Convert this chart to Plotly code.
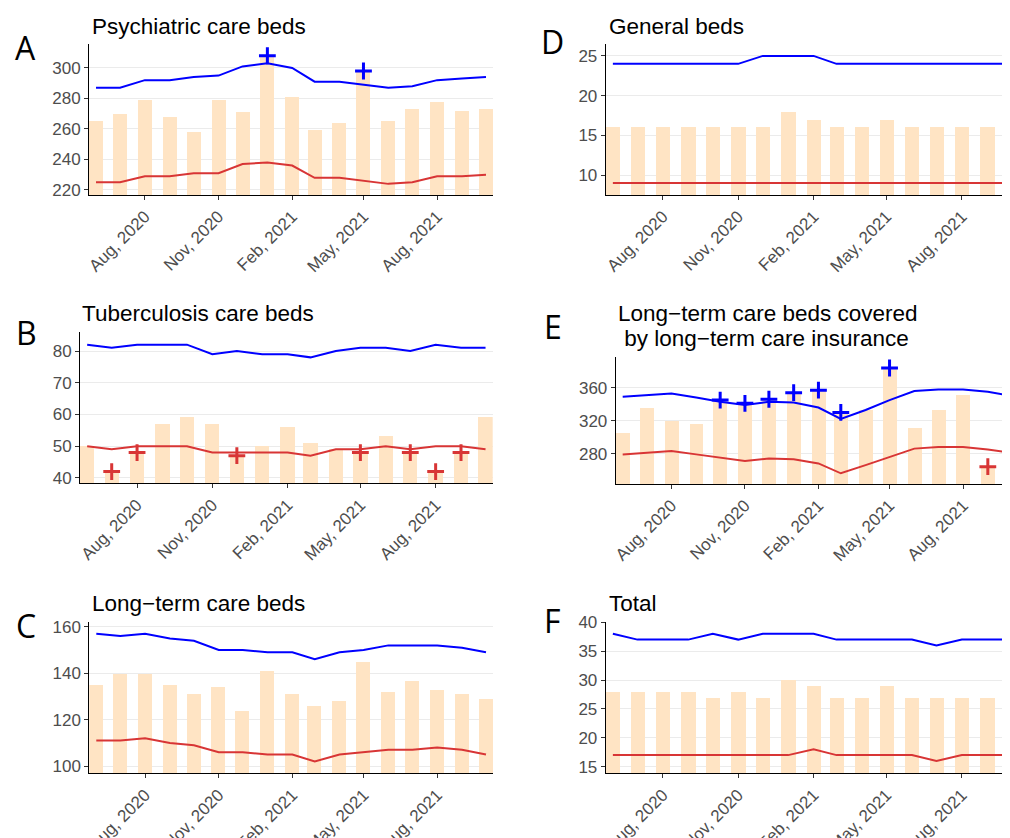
import plotly.graph_objects as go
import pandas as pd

# ---------------- data ----------------
months = pd.date_range("2020-06-01", "2021-10-01", freq="MS")
tick_dates = ["2020-08-01", "2020-11-01", "2021-02-01", "2021-05-01", "2021-08-01"]
tick_labels = ["Aug, 2020", "Nov, 2020", "Feb, 2021", "May, 2021", "Aug, 2021"]

panel_letters = ["A", "B", "C", "D", "E", "F"]
panel_titles = ["Psychiatric care beds", "Tuberculosis care beds", "Long\u2212term care beds",
                "General beds", "Long\u2212term care beds covered\n\u00a0by long\u2212term care insurance", "Total"]

A_bars = [265, 270, 279, 268, 258, 279, 271, 308, 281, 259, 264, 298, 265, 273, 278, 272, 273]
A_upper = [287, 287, 292, 292, 294, 295, 301, 303, 300, 291, 291, 289, 287, 288, 292, 293, 294]
A_lower = [225, 225, 229, 229, 231, 231, 237, 238, 236, 228, 228, 226, 224, 225, 229, 229, 230]
A_above = [0, 0, 0, 0, 0, 0, 0, 1, 0, 0, 0, 1, 0, 0, 0, 0, 0]
A_below = [0, 0, 0, 0, 0, 0, 0, 0, 0, 0, 0, 0, 0, 0, 0, 0, 0]

B_bars = [50, 42, 48, 57, 59, 57, 47, 50, 56, 51, 49, 48, 53, 48, 42, 48, 59]
B_upper = [82, 81, 82, 82, 82, 79, 80, 79, 79, 78, 80, 81, 81, 80, 82, 81, 81]
B_lower = [50, 49, 50, 50, 50, 48, 48, 48, 48, 47, 49, 49, 50, 49, 50, 50, 49]
B_above = [0, 0, 0, 0, 0, 0, 0, 0, 0, 0, 0, 0, 0, 0, 0, 0, 0]
B_below = [0, 1, 1, 0, 0, 0, 1, 0, 0, 0, 0, 1, 0, 1, 1, 1, 0]

C_bars = [135, 140, 140, 135, 131, 134, 124, 141, 131, 126, 128, 145, 132, 137, 133, 131, 129]
C_upper = [157, 156, 157, 155, 154, 150, 150, 149, 149, 146, 149, 150, 152, 152, 152, 151, 149]
C_lower = [111, 111, 112, 110, 109, 106, 106, 105, 105, 102, 105, 106, 107, 107, 108, 107, 105]
C_above = [0, 0, 0, 0, 0, 0, 0, 0, 0, 0, 0, 0, 0, 0, 0, 0, 0]
C_below = [0, 0, 0, 0, 0, 0, 0, 0, 0, 0, 0, 0, 0, 0, 0, 0, 0]

D_bars = [16, 16, 16, 16, 16, 16, 16, 18, 17, 16, 16, 17, 16, 16, 16, 16, 16]
D_upper = [24, 24, 24, 24, 24, 24, 25, 25, 25, 24, 24, 24, 24, 24, 24, 24, 24]
D_lower = [9, 9, 9, 9, 9, 9, 9, 9, 9, 9, 9, 9, 9, 9, 9, 9, 9]
D_above = [0, 0, 0, 0, 0, 0, 0, 0, 0, 0, 0, 0, 0, 0, 0, 0, 0]
D_below = [0, 0, 0, 0, 0, 0, 0, 0, 0, 0, 0, 0, 0, 0, 0, 0, 0]

E_bars = [305, 335, 319, 315, 345, 341, 346, 354, 357, 330, 333, 384, 311, 333, 351, 264, 288]
E_upper = [349, 351, 353, 348, 343, 339, 343, 342, 336, 322, 333, 345, 356, 358, 358, 355, 350]
E_lower = [279, 281, 283, 279, 275, 271, 274, 273, 268, 256, 266, 276, 286, 288, 288, 285, 281]
E_above = [0, 0, 0, 0, 1, 1, 1, 1, 1, 1, 0, 1, 0, 0, 0, 0, 0]
E_below = [0, 0, 0, 0, 0, 0, 0, 0, 0, 0, 0, 0, 0, 0, 0, 1, 0]

F_bars = [28, 28, 28, 28, 27, 28, 27, 30, 29, 27, 27, 29, 27, 27, 27, 27, 27]
F_upper = [38, 37, 37, 37, 38, 37, 38, 38, 38, 37, 37, 37, 37, 36, 37, 37, 37]
F_lower = [17, 17, 17, 17, 17, 17, 17, 17, 18, 17, 17, 17, 17, 16, 17, 17, 17]
F_above = [0, 0, 0, 0, 0, 0, 0, 0, 0, 0, 0, 0, 0, 0, 0, 0, 0]
F_below = [0, 0, 0, 0, 0, 0, 0, 0, 0, 0, 0, 0, 0, 0, 0, 0, 0]

# ---------------- styling / layout ----------------
W, H = 1010, 838
OFF = 8  # page body margin: figure pixel = screen pixel - OFF
BAR_COLOR = "#FFE4C4"
UP_COLOR = "#0000FF"
LO_COLOR = "#D83535"
TICK_FONT = dict(family="Liberation Sans, Arial, sans-serif", size=17, color="#4D4D4D")
TITLE_FONT = dict(family="Liberation Sans, Arial, sans-serif", size=22.5, color="black")
LETTER_FONT = dict(family="Open Sans, Liberation Sans, sans-serif", size=32, color="black")

day = pd.Timedelta(days=1)
bar_w_days = 17.5
x_left = months[0] - bar_w_days / 2 * day
x_right_full = months[-1] + bar_w_days / 2 * day
x_right_cut = x_left + 493.5 * day


def px(x):
    return (x - OFF) / W


def py(y):
    return 1 - (y - OFF) / H


# screen-pixel boxes of the reference: (x0, x1, y_top, y_bottom)
panels = [
    dict(bars=A_bars, up=A_upper, lo=A_lower, ab=A_above, be=A_below,
         box=(89, 493, 44, 195), yr=(216.7, 315.7), dt=20, xr=x_right_full,
         title_xy=(90, 26), letter_xy=(25, 47)),
    dict(bars=B_bars, up=B_upper, lo=B_lower, ab=B_above, be=B_below,
         box=(80, 492.7, 332.3, 483.3), yr=(38.3, 85.9), dt=10, xr=x_right_full,
         title_xy=(80, 314), letter_xy=(26, 332)),
    dict(bars=C_bars, up=C_upper, lo=C_lower, ab=C_above, be=C_below,
         box=(89.3, 493, 621.7, 773.3), yr=(96.9, 162.2), dt=20, xr=x_right_full,
         title_xy=(90, 603), letter_xy=(25.5, 625)),
    dict(bars=D_bars, up=D_upper, lo=D_lower, ab=D_above, be=D_below,
         box=(605.7, 1010, 44, 195), yr=(7.5, 26.5), dt=5, xr=x_right_cut,
         title_xy=(606.7, 26), letter_xy=(552.5, 42)),
    dict(bars=E_bars, up=E_upper, lo=E_lower, ab=E_above, be=E_below,
         box=(615.7, 1010, 357.3, 484), yr=(243, 397), dt=40, xr=x_right_cut,
         title_xy=(615.7, 314), letter_xy=(552.5, 327)),
    dict(bars=F_bars, up=F_upper, lo=F_lower, ab=F_above, be=F_below,
         box=(605.7, 1010, 621.7, 773.3), yr=(13.85, 40.1), dt=5, xr=x_right_cut,
         title_xy=(606.7, 603), letter_xy=(552, 620)),
]

fig = go.Figure()
annotations = []
layout_axes = {}

for i, p in enumerate(panels):
    n = "" if i == 0 else str(i + 1)
    xa, ya = "x" + n, "y" + n
    x0, x1, yt, yb = p["box"]
    layout_axes["xaxis" + n] = dict(
        domain=[px(x0), px(x1)], anchor=ya, type="date", automargin=False,
        range=[x_left, p["xr"]], tickmode="array", tickvals=tick_dates, ticktext=tick_labels,
        tickangle=-45, tickfont=TICK_FONT, ticks="outside", ticklen=4, tickcolor="#333333",
        showline=True, linecolor="black", linewidth=1, showgrid=False, zeroline=False,
        fixedrange=True)
    layout_axes["yaxis" + n] = dict(
        domain=[py(yb), py(yt)], anchor=xa, range=list(p["yr"]), automargin=False,
        tick0=0, dtick=p["dt"], tickfont=TICK_FONT, ticks="outside", ticklen=4,
        tickcolor="#333333", showline=True, linecolor="black", linewidth=1,
        showgrid=True, gridcolor="#EBEBEB", gridwidth=1, zeroline=False, fixedrange=True)

    fig.add_trace(go.Bar(x=months, y=p["bars"], xaxis=xa, yaxis=ya, marker_color=BAR_COLOR,
                         marker_line_width=0, width=bar_w_days * 86400000, showlegend=False))
    fig.add_trace(go.Scatter(x=months, y=p["up"], xaxis=xa, yaxis=ya, mode="lines",
                             line=dict(color=UP_COLOR, width=2), showlegend=False))
    fig.add_trace(go.Scatter(x=months, y=p["lo"], xaxis=xa, yaxis=ya, mode="lines",
                             line=dict(color=LO_COLOR, width=2), showlegend=False))
    hx = [m for m, f in zip(months, p["ab"]) if f]
    hy = [v for v, f in zip(p["bars"], p["ab"]) if f]
    lx = [m for m, f in zip(months, p["be"]) if f]
    ly = [v for v, f in zip(p["bars"], p["be"]) if f]
    if hx:
        fig.add_trace(go.Scatter(x=hx, y=hy, xaxis=xa, yaxis=ya, mode="markers", cliponaxis=False,
                                 marker=dict(symbol="cross-thin", size=12,
                                             line=dict(color=UP_COLOR, width=3)),
                                 showlegend=False))
    if lx:
        fig.add_trace(go.Scatter(x=lx, y=ly, xaxis=xa, yaxis=ya, mode="markers", cliponaxis=False,
                                 marker=dict(symbol="cross-thin", size=12,
                                             line=dict(color=LO_COLOR, width=3)),
                                 showlegend=False))

    tx, ty = p["title_xy"]
    for k, line in enumerate(panel_titles[i].split("\n")):
        annotations.append(dict(text=line, xref="paper", yref="paper", x=px(tx),
                                y=py(ty + k * 24.5), xanchor="left", yanchor="middle",
                                showarrow=False, font=TITLE_FONT))
    lx_, ly_ = p["letter_xy"]
    annotations.append(dict(text=panel_letters[i], xref="paper", yref="paper", x=px(lx_),
                            y=py(ly_), xanchor="center", yanchor="middle",
                            showarrow=False, font=LETTER_FONT))

fig.update_layout(width=W, height=H, margin=dict(l=0, r=0, t=0, b=0, autoexpand=False),
                  paper_bgcolor="white", plot_bgcolor="white", bargap=0,
                  annotations=annotations, **layout_axes)

fig.write_html("out.html", config={"displayModeBar": False})
